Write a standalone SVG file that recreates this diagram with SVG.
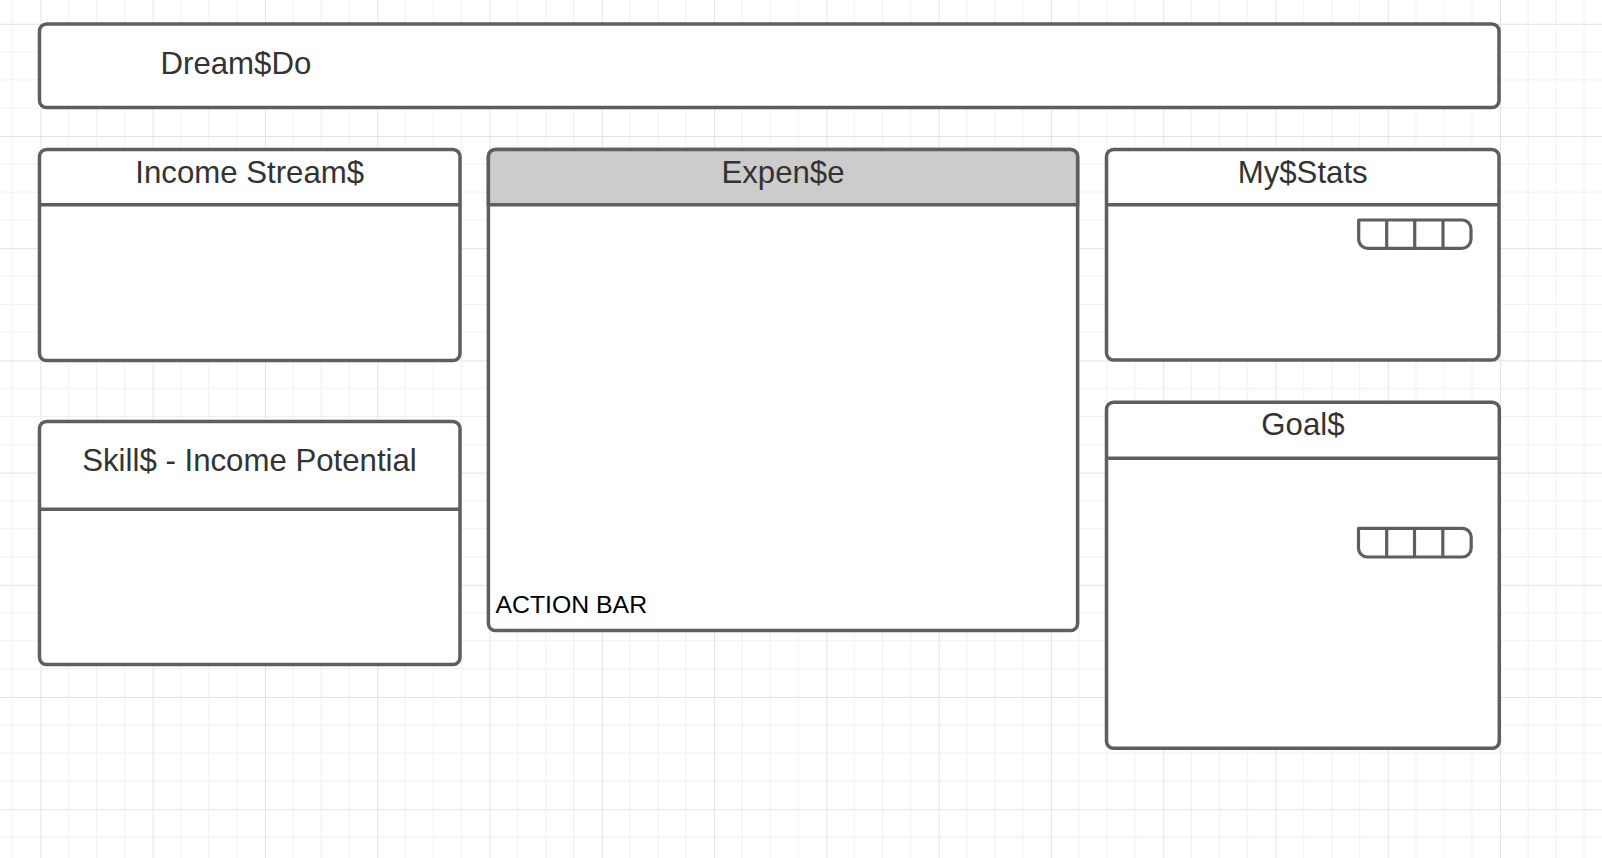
<svg xmlns="http://www.w3.org/2000/svg" width="1602" height="858" viewBox="0 0 1602 858">
<style>
.box{fill:#ffffff;stroke:#5e5e5e;stroke-width:3.5}
.hdr{fill:#cccccc;stroke:#5e5e5e;stroke-width:3.5}
.sep{stroke:#5e5e5e;stroke-width:3.5;fill:none}
.bar{fill:#ffffff;stroke:#5e5e5e;stroke-width:3.2;stroke-linejoin:round}
.div{stroke:#5e5e5e;stroke-width:3.2}
.t{font-family:"Liberation Sans",Arial,sans-serif;font-size:31.2px;fill:#333333}
.c{text-anchor:middle}
.ab{font-family:"Liberation Sans",Arial,sans-serif;font-size:24.8px;fill:#000000}
</style>
<defs>
<pattern id="grid" patternUnits="userSpaceOnUse" x="40.42" y="23.8" width="112.28" height="112.2">
<path d="M28.07 0V112.2M56.14 0V112.2M84.21 0V112.2M0 28.05H112.28M0 56.1H112.28M0 84.15H112.28" stroke="#f0f0f0" stroke-width="1" fill="none"/>
<path d="M0.5 0V112.2M0 0.5H112.28" stroke="#e3e3e3" stroke-width="1" fill="none"/>
</pattern>
</defs>
<rect width="1602" height="858" fill="#ffffff"/>
<rect width="1602" height="858" fill="url(#grid)"/>
<g id="connectors"></g>
<g id="header">
<rect class="box" x="39.5" y="24" width="1459.5" height="83.5" rx="7"/>
<text class="t" x="160.5" y="74">Dream$Do</text>
</g>
<g id="income">
<rect class="box" x="39.5" y="149.5" width="420.5" height="211" rx="7"/>
<line class="sep" x1="39.5" y1="204.7" x2="460" y2="204.7"/>
<text class="t c" x="249.7" y="183.3">Income Stream$</text>
</g>
<g id="skills">
<rect class="box" x="39.5" y="421.5" width="420.5" height="243" rx="7"/>
<line class="sep" x1="39.5" y1="509.3" x2="460" y2="509.3"/>
<text class="t c" x="249.5" y="471">Skill$ - Income Potential</text>
</g>
<g id="expense">
<rect class="box" x="488.4" y="149.5" width="589.2" height="481" rx="7"/>
<path class="hdr" d="M488.4 204.7V156.5A7 7 0 0 1 495.4 149.5H1070.6A7 7 0 0 1 1077.6 156.5V204.7Z"/>
<text class="t c" x="783" y="182.7">Expen$e</text>
<text class="ab" x="495.5" y="612.7">ACTION BAR</text>
</g>
<g id="stats">
<rect class="box" x="1106.5" y="149.5" width="392.5" height="210.5" rx="7"/>
<line class="sep" x1="1106.5" y1="204.7" x2="1499" y2="204.7"/>
<text class="t c" x="1302.7" y="182.7">My$Stats</text>
<path class="bar" d="M1358.7 220H1462A9 9 0 0 1 1471 229V239.3A9 9 0 0 1 1462 248.3H1367.7A9 9 0 0 1 1358.7 239.3Z"/>
<line class="div" x1="1386.7" y1="220" x2="1386.7" y2="248.3"/>
<line class="div" x1="1414.7" y1="220" x2="1414.7" y2="248.3"/>
<line class="div" x1="1443" y1="220" x2="1443" y2="248.3"/>
</g>
<g id="goals">
<rect class="box" x="1106.5" y="402.3" width="392.8" height="346" rx="7"/>
<line class="sep" x1="1106.5" y1="458.3" x2="1499.3" y2="458.3"/>
<text class="t c" x="1302.9" y="435">Goal$</text>
<path class="bar" d="M1358.5 528.3H1462.2A9 9 0 0 1 1471.2 537.3V548A9 9 0 0 1 1462.2 557H1367.5A9 9 0 0 1 1358.5 548Z"/>
<line class="div" x1="1386.7" y1="528.3" x2="1386.7" y2="557"/>
<line class="div" x1="1414.5" y1="528.3" x2="1414.5" y2="557"/>
<line class="div" x1="1442.8" y1="528.3" x2="1442.8" y2="557"/>
</g>
</svg>
